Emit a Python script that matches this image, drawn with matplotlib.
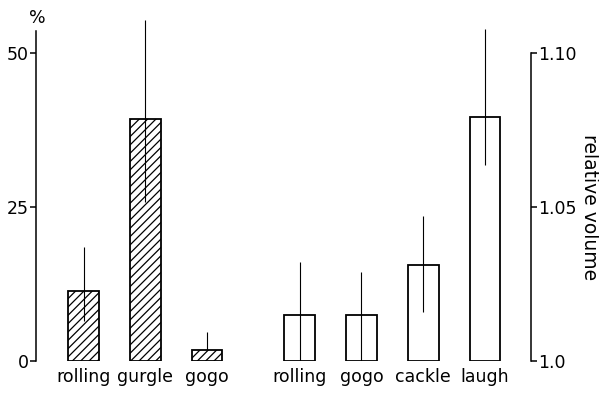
import matplotlib
matplotlib.use('Agg')
import matplotlib.pyplot as plt

# left group: % of calls
pct_labels = ['rolling', 'gurgle', 'gogo']
pct_values = [11.3, 39.2, 1.7]
pct_err_low = [6.4, 25.7, 1.7]
pct_err_high = [18.4, 55.3, 4.6]

# right group: relative volume
vol_labels = ['rolling', 'gogo', 'cackle', 'laugh']
vol_values = [1.0148, 1.0148, 1.031, 1.079]
vol_err_low = [1.0, 1.0, 1.0159, 1.0636]
vol_err_high = [1.0322, 1.0287, 1.047, 1.1076]

pct_pos = [0, 1, 2]
vol_pos = [3.5, 4.5, 5.5, 6.5]
bar_w = 0.5

plt.rcParams['font.family'] = 'DejaVu Sans'
plt.rcParams['hatch.linewidth'] = 0.9

fig = plt.figure(figsize=(5.99, 3.96), dpi=100)
ax = fig.add_axes([0.060, 0.089, 0.826, 0.871])
ax2 = ax.twinx()

ymax = 56
ax.set_ylim(0, ymax)
ax2.set_ylim(1.0, 1.0 + ymax * 0.002)
ax.set_xlim(-0.77, 7.24)

# hatched bars (left axis)
ax.bar(pct_pos, pct_values, width=bar_w, facecolor='white', edgecolor='black',
       hatch='////', linewidth=1.3, zorder=2)
ax.vlines(pct_pos, pct_err_low, pct_err_high, color='black', linewidth=0.8, zorder=3)

# open bars (right axis)
ax2.bar(vol_pos, [v - 1.0 for v in vol_values], bottom=1.0, width=bar_w,
        facecolor='white', edgecolor='black', linewidth=1.3, zorder=2)
ax2.vlines(vol_pos, vol_err_low, vol_err_high, color='black', linewidth=0.8, zorder=3)

# axes styling
for a in (ax, ax2):
    a.spines['top'].set_visible(False)
    a.spines['bottom'].set_visible(False)
ax.spines['right'].set_visible(False)
ax2.spines['left'].set_visible(False)
ax.spines['left'].set_bounds(0, 53.5)
ax2.spines['right'].set_bounds(1.0, 1.10)
ax.spines['left'].set_linewidth(1.1)
ax2.spines['right'].set_linewidth(1.1)

ax.set_yticks([0, 25, 50])
ax.set_yticklabels(['0', '25', '50'])
ax2.set_yticks([1.0, 1.05, 1.10])
ax2.set_yticklabels(['1.0', '1.05', '1.10'])
ax.tick_params(axis='y', length=4, width=1.1, labelsize=12.5, pad=1)
ax2.tick_params(axis='y', length=4, width=1.1, labelsize=12.5, pad=1)

ax.set_xticks(pct_pos + vol_pos)
ax.set_xticklabels(pct_labels + vol_labels, fontsize=12.5)
ax.tick_params(axis='x', length=0, pad=5)

fig.text(37 / 599, 1 - 18 / 396, '%', fontsize=12.5, ha='center', va='center')
fig.text(590 / 599, 1 - 207 / 396, 'relative volume', fontsize=13.5,
         rotation=270, ha='center', va='center')

fig.savefig('out.png', dpi=100)
